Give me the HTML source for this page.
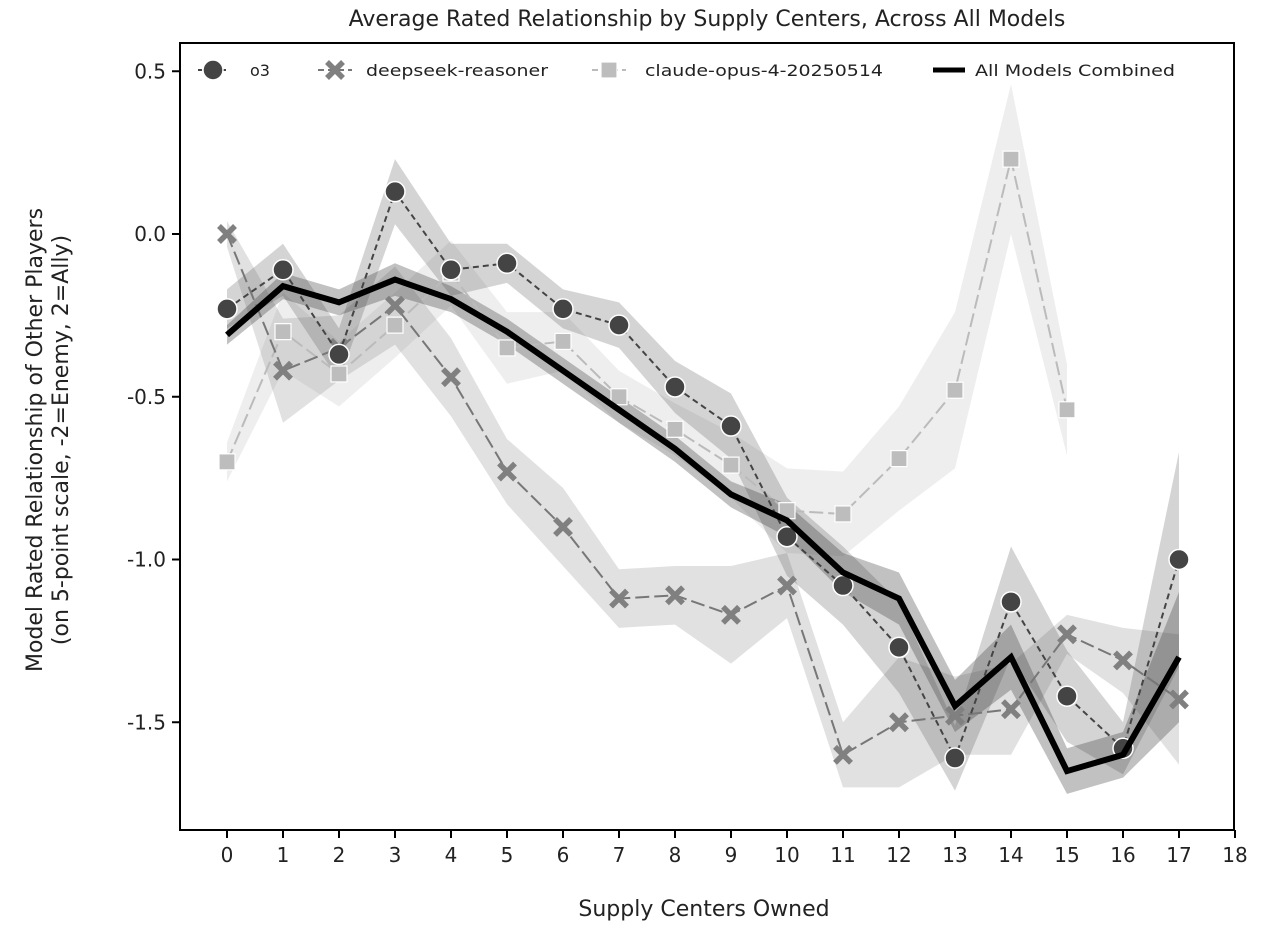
<!DOCTYPE html>
<html><head><meta charset="utf-8"><style>
body{margin:0;background:#fff;}
svg text{font-family:"DejaVu Sans","Liberation Sans",sans-serif;fill:#222;}
</style></head><body>
<svg id="chart" width="1266" height="946" xmlns="http://www.w3.org/2000/svg">
<text x="707" y="26" font-size="22" text-anchor="middle">Average Rated Relationship by Supply Centers, Across All Models</text>
<g id="bands"></g><g id="lines"></g><g id="axes"></g>
<text x="704" y="916" font-size="22" text-anchor="middle">Supply Centers Owned</text>
<g transform="translate(42,440) rotate(-90)">
<text x="0" y="0" font-size="22" text-anchor="middle">Model Rated Relationship of Other Players</text>
<text x="0" y="26" font-size="22" text-anchor="middle">(on 5-point scale, -2=Enemy, 2=Ally)</text></g>
<g id="legend"></g>
</svg>
<script>
const xCats=[0,1,2,3,4,5,6,7,8,9,10,11,12,13,14,15,16,17];
const yTicks=[0.5,0.0,-0.5,-1.0,-1.5];
const xTicks=[0,1,2,3,4,5,6,7,8,9,10,11,12,13,14,15,16,17,18];
const o3=[-0.23,-0.11,-0.37,0.13,-0.11,-0.09,-0.23,-0.28,-0.47,-0.59,-0.93,-1.08,-1.27,-1.61,-1.13,-1.42,-1.58,-1.00];
const o3Err=[0.06,0.08,0.08,0.1,0.08,0.06,0.06,0.07,0.08,0.1,0.12,0.12,0.14,0.1,0.17,0.14,0.08,0.33];
const deepseek=[0.00,-0.42,-0.35,-0.22,-0.44,-0.73,-0.90,-1.12,-1.11,-1.17,-1.08,-1.60,-1.50,-1.48,-1.46,-1.23,-1.31,-1.43];
const deepseekErr=[0.04,0.16,0.1,0.12,0.12,0.1,0.12,0.09,0.09,0.15,0.1,0.1,0.2,0.12,0.14,0.06,0.1,0.2];
const claude=[-0.70,-0.30,-0.43,-0.28,-0.12,-0.35,-0.33,-0.50,-0.60,-0.71,-0.85,-0.86,-0.69,-0.48,0.23,-0.54];
const claudeErr=[0.06,0.12,0.1,0.1,0.1,0.11,0.09,0.08,0.08,0.1,0.13,0.13,0.16,0.24,0.23,0.14];
const combined=[-0.31,-0.16,-0.21,-0.14,-0.20,-0.30,-0.42,-0.54,-0.66,-0.80,-0.88,-1.04,-1.12,-1.45,-1.30,-1.65,-1.60,-1.30];
const combinedErr=[0.03,0.04,0.04,0.05,0.04,0.04,0.04,0.04,0.04,0.04,0.05,0.06,0.08,0.08,0.1,0.07,0.07,0.2];
const NS="http://www.w3.org/2000/svg";
const L=180,R=1234,T=43,B=830;
const X=v=>227+v*56;
const Y=v=>234-v*325.5;
function mk(t,a,p){const e=document.createElementNS(NS,t);for(const k in a)e.setAttribute(k,a[k]);p.appendChild(e);return e;}
const bands=document.getElementById('bands'),lines=document.getElementById('lines'),axes=document.getElementById('axes'),leg=document.getElementById('legend');
function band(vals,err,fill,op,name){
  let up=vals.map((v,i)=>X(xCats[i])+','+Y(v+err[i]));
  let dn=vals.map((v,i)=>X(xCats[i])+','+Y(v-err[i])).reverse();
  const p=mk('polygon',{points:up.concat(dn).join(' '),fill:fill,'fill-opacity':op},bands);
  
  
}
band(claude,claudeErr,'#aaa',0.2,'claude-ci-band');
band(deepseek,deepseekErr,'#888',0.25,'deepseek-ci-band');
band(o3,o3Err,'#555',0.25,'o3-ci-band');
band(combined,combinedErr,'#333',0.3,'combined-ci-band');
function line(vals,color,w,dash,name){
  const p=mk('polyline',{points:vals.map((v,i)=>X(xCats[i])+','+Y(v)).join(' '),fill:'none',stroke:color,'stroke-width':w,'stroke-dasharray':dash},lines);
  
  
}
function circ(x,y,c,p){const e=mk('circle',{cx:x,cy:y,r:10,fill:c,stroke:'#fff','stroke-width':1.5},p);return e;}
function cross(x,y,c,p){const g=mk('g',{},p);mk('path',{d:`M${x-8},${y-8}L${x+8},${y+8}M${x-8},${y+8}L${x+8},${y-8}`,stroke:c,'stroke-width':5.5,'stroke-linecap':'butt'},g);return g;}
function sq(x,y,c,p){return mk('rect',{x:x-8,y:y-8,width:16,height:16,fill:c,stroke:'#fff','stroke-width':1.2},p);}
line(claude,'#bbb',2,'14,5','claude-line');
claude.forEach((v,i)=>{const e=sq(X(xCats[i]),Y(v),'#bdbdbd',lines);

});
line(deepseek,'#777',2,'14,5','deepseek-line');
deepseek.forEach((v,i)=>{const e=cross(X(xCats[i]),Y(v),'#808080',lines);

});
line(o3,'#444',2,'6,4','o3-line');
o3.forEach((v,i)=>{const e=circ(X(xCats[i]),Y(v),'#444',lines);

});
line(combined,'#000',6,'','combined-line');
// axes
mk('rect',{x:L,y:T,width:R-L,height:B-T,fill:'none',stroke:'#000','stroke-width':2},axes);
yTicks.forEach(v=>{mk('line',{x1:L-8,x2:L,y1:Y(v),y2:Y(v),stroke:'#000','stroke-width':2},axes);
const t=mk('text',{x:L-14,y:Y(v)+7,'font-size':20,'text-anchor':'end'},axes);t.textContent=v.toFixed(1);

});
xTicks.forEach(v=>{mk('line',{x1:X(v),x2:X(v),y1:B,y2:B+8,stroke:'#000','stroke-width':2},axes);
const t=mk('text',{x:X(v),y:B+32,'font-size':20,'text-anchor':'middle'},axes);t.textContent=v;

});
// legend
const ly=70;
mk('line',{x1:198,x2:230,y1:ly,y2:ly,stroke:'#444','stroke-width':2,'stroke-dasharray':'4,4'},leg);circ(213,ly,'#444',leg);
mk('line',{x1:318,x2:352,y1:ly,y2:ly,stroke:'#777','stroke-width':2,'stroke-dasharray':'6,4'},leg);cross(335,ly,'#808080',leg);
mk('line',{x1:592,x2:626,y1:ly,y2:ly,stroke:'#bbb','stroke-width':2,'stroke-dasharray':'6,4'},leg);sq(609,ly,'#bdbdbd',leg);
mk('line',{x1:933,x2:965,y1:ly,y2:ly,stroke:'#000','stroke-width':5},leg);
[[250,'o3',20],[366,'deepseek-reasoner',182],[645,'claude-opus-4-20250514',238],[975,'All Models Combined',200]].forEach(a=>{
const t=mk('text',{x:a[0],y:ly+6,'font-size':16,textLength:a[2],lengthAdjust:'spacingAndGlyphs'},leg);t.textContent=a[1];

});
</script>
</body></html>
